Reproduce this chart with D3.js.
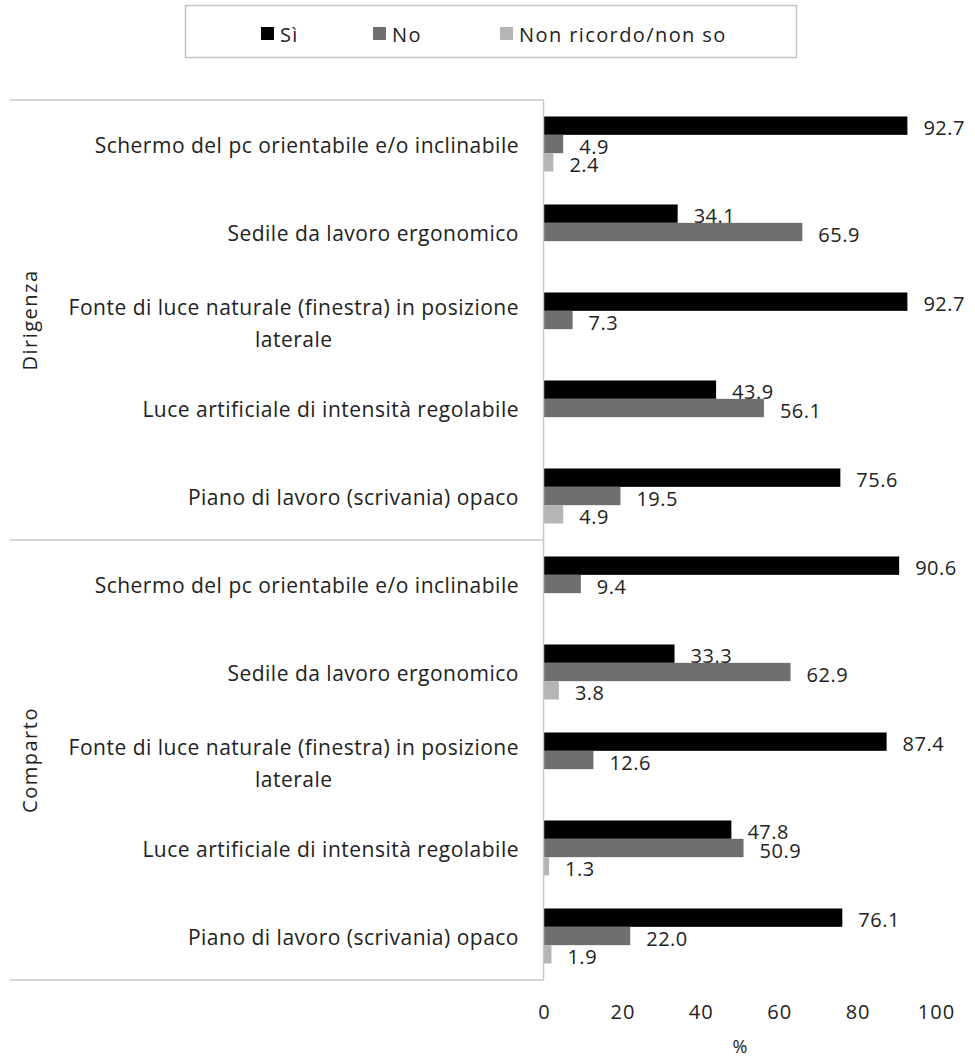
<!DOCTYPE html>
<html>
<head>
<meta charset="utf-8">
<script src="https://cdn.jsdelivr.net/npm/d3@7"></script>
<style>
  body { margin: 0; background: #fff; }
  text { font-family: "Open Sans", sans-serif; fill: #222; }
</style>
</head>
<body>
<svg id="chart" width="975" height="1061"></svg>
<script>
// groups and items (top to bottom)
const groups = ['Dirigenza', 'Comparto'];
const items = [
    'Schermo del pc orientabile e/o inclinabile',
    'Sedile da lavoro ergonomico',
    'Fonte di luce naturale (finestra) in posizione|laterale',
    'Luce artificiale di intensità regolabile',
    'Piano di lavoro (scrivania) opaco'
];
const seriesNames = ['Sì', 'No', 'Non ricordo/non so'];
const seriesColors = ['#000000', '#6f6f6f', '#b5b5b5'];

// values: Dirigenza items then Comparto items (null = not shown)
const siValues = [92.7, 34.1, 92.7, 43.9, 75.6, 90.6, 33.3, 87.4, 47.8, 76.1];
const noValues = [4.9, 65.9, 7.3, 56.1, 19.5, 9.4, 62.9, 12.6, 50.9, 22.0];
const nrValues = [2.4, null, null, null, 4.9, null, 3.8, null, 1.3, 1.9];
const xTicks = [0, 20, 40, 60, 80, 100];

const svg = d3.select('#chart');
const rows = [];
groups.forEach((g, gi) => items.forEach((it, ii) => rows.push({ group: g, label: it, idx: gi * items.length + ii })));
const seriesVals = [siValues, noValues, nrValues];

const plotLeft = 544, plotRight = 936, plotTop = 100, plotBottom = 980;
const x = d3.scaleLinear().domain([0, 100]).range([plotLeft, plotRight]);
const y = d3.scaleBand().domain(rows.map(r => r.idx)).range([plotTop, plotBottom]);
const inner = d3.scaleBand().domain(d3.range(3)).range([0, 55]);
const offset = (y.bandwidth() - 55) / 2;
const fmt = d3.format('.1f');

// legend
const legend = svg.append('g');
legend.append('rect').attr('x', 185.5).attr('y', 5.5).attr('width', 611).attr('height', 52)
    .attr('fill', 'none').attr('stroke', '#c4c4c4').attr('stroke-width', 1.5);
const legendX = [261, 373, 500];
seriesNames.forEach((s, i) => {
    legend.append('rect').attr('x', legendX[i]).attr('y', 27).attr('width', 13).attr('height', 13).attr('fill', seriesColors[i]);
    legend.append('text').attr('x', legendX[i] + 19).attr('y', 34).attr('dominant-baseline', 'central')
        .attr('font-size', 20).style('letter-spacing', '1.4px').text(s);
});

// frame lines
const lineCol = '#c8c8c8';
[plotTop, (plotTop + plotBottom) / 2, plotBottom].forEach(yy => {
    svg.append('line').attr('x1', 10).attr('x2', plotLeft).attr('y1', yy).attr('y2', yy)
        .attr('stroke', lineCol).attr('stroke-width', 1.5);
});

// bars
const bars = svg.append('g');
seriesVals.forEach((vals, si) => {
    bars.selectAll(null).data(rows.filter(r => vals[r.idx] != null)).join('rect')
        .attr('x', x(0))
        .attr('y', r => y(r.idx) + offset + inner(si))
        .attr('width', r => x(vals[r.idx]) - x(0))
        .attr('height', inner.bandwidth())
        .attr('fill', seriesColors[si]);
    bars.selectAll(null).data(rows.filter(r => vals[r.idx] != null)).join('text')
        .attr('x', r => x(vals[r.idx]) + 16)
        .attr('y', r => y(r.idx) + offset + inner(si) + inner.bandwidth() / 2 + 2)
        .attr('dominant-baseline', 'central')
        .attr('font-size', 20).style('letter-spacing', '0.5px')
        .text(r => fmt(vals[r.idx]));
});

// axis line
svg.append('line').attr('x1', plotLeft - 0.5).attr('x2', plotLeft - 0.5).attr('y1', plotTop).attr('y2', plotBottom)
    .attr('stroke', lineCol).attr('stroke-width', 1.5);

// x axis
const xAxis = svg.append('g').attr('transform', `translate(0,${plotBottom})`)
    .call(d3.axisBottom(x).tickValues(xTicks).tickSize(0).tickPadding(25));
xAxis.select('.domain').remove();
xAxis.selectAll('text').attr('font-size', 20).attr('fill', '#222').style('letter-spacing', '1px')
    .style('font-family', '"Open Sans", sans-serif');
svg.append('text').attr('x', (plotLeft + plotRight) / 2).attr('y', 1046).attr('text-anchor', 'middle')
    .attr('dominant-baseline', 'central').attr('font-size', 18).text('%');

// category labels
const labels = svg.append('g');
rows.forEach(r => {
    const lines = r.label.split('|');
    const cy = y(r.idx) + y.bandwidth() / 2 + (lines.length > 1 ? 3 : 1);
    const lh = 32;
    const t = labels.append('text').attr('font-size', 21).style('letter-spacing', '0.5px');
    lines.forEach((ln, li) => {
        t.append('tspan').attr('y', cy + (li - (lines.length - 1) / 2) * lh).attr('dominant-baseline', 'central').text(ln);
    });
    // right align the block, centre the lines inside it
    const tsp = t.selectAll('tspan').nodes();
    const maxW = d3.max(tsp, n => n.getComputedTextLength());
    const cx = 519 - maxW / 2;
    tsp.forEach(n => d3.select(n).attr('x', cx).attr('text-anchor', 'middle'));
});

// group labels (rotated)
groups.forEach((g, gi) => {
    const cy = plotTop + (plotBottom - plotTop) / 4 * (gi * 2 + 1);
    svg.append('text').attr('transform', `translate(29,${cy}) rotate(-90)`)
        .attr('text-anchor', 'middle').attr('dominant-baseline', 'central')
        .attr('font-size', 20).style('letter-spacing', '1.5px').text(g);
});
</script>
</body>
</html>
